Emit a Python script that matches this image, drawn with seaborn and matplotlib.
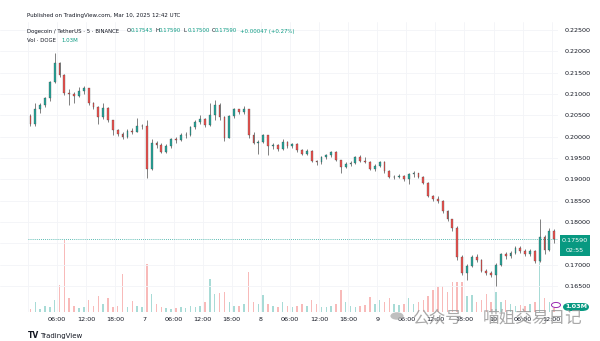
import numpy as np
import pandas as pd
import matplotlib
matplotlib.use("Agg")
import matplotlib.pyplot as plt
from matplotlib.patches import FancyBboxPatch, Circle
import seaborn as sns

# Hourly DOGE/USDT candles from Mar 6 00:00 UTC to Mar 10 12:42 UTC
first_open = 0.2049
closes = [
    0.2030, 0.2065, 0.2075, 0.2090, 0.2128, 0.2172, 0.2145, 0.2102, 0.2100, 0.2096,
    0.2108, 0.2113, 0.2078, 0.2070, 0.2045, 0.2068, 0.2038, 0.2015, 0.2006, 0.2000,
    0.2014, 0.2012, 0.2024, 0.2025,
    0.1925, 0.1985, 0.1980, 0.1965, 0.1978, 0.1995, 0.1992, 0.2003, 0.2005, 0.2022,
    0.2035, 0.2042, 0.2028, 0.2050, 0.2075, 0.2045, 0.1998, 0.2048, 0.2064, 0.2058,
    0.2065, 0.2003, 0.1985, 0.1988,
    0.2003, 0.1978, 0.1980, 0.1970, 0.1988, 0.1978, 0.1982, 0.1968, 0.1960, 0.1966,
    0.1942, 0.1940, 0.1952, 0.1958, 0.1964, 0.1945, 0.1930, 0.1937, 0.1938, 0.1952,
    0.1943, 0.1940, 0.1925, 0.1932,
    0.1940, 0.1920, 0.1905, 0.1905, 0.1908, 0.1900, 0.1912, 0.1915, 0.1905, 0.1892,
    0.1862, 0.1855, 0.1849, 0.1825, 0.1806, 0.1785, 0.1717, 0.1680, 0.1698, 0.1718,
    0.1712, 0.1686, 0.1681, 0.1676,
    0.1700, 0.1725, 0.1720, 0.1728, 0.1740, 0.1733, 0.1724, 0.1732, 0.1708, 0.1765,
    0.1735, 0.1780, 0.1759,
]
highs = [
    0.2052, 0.2080, 0.2080, 0.2092, 0.2130, 0.2197, 0.2175, 0.2148, 0.2112, 0.2104,
    0.2116, 0.2118, 0.2115, 0.2082, 0.2072, 0.2080, 0.2070, 0.2040, 0.2018, 0.2010,
    0.2018, 0.2020, 0.2044, 0.2030,
    0.2040, 0.1995, 0.1990, 0.1984, 0.1982, 0.1998, 0.2000, 0.2008, 0.2010, 0.2026,
    0.2038, 0.2050, 0.2044, 0.2078, 0.2085, 0.2078, 0.2048, 0.2050, 0.2068, 0.2066,
    0.2072, 0.2066, 0.2010, 0.1992,
    0.2006, 0.2004, 0.1986, 0.1982, 0.1995, 0.1990, 0.1986, 0.1984, 0.1970, 0.1972,
    0.1968, 0.1946, 0.1954, 0.1960, 0.1966, 0.1966, 0.1946, 0.1940, 0.1942, 0.1954,
    0.1956, 0.1952, 0.1942, 0.1936,
    0.1942, 0.1942, 0.1922, 0.1910, 0.1912, 0.1910, 0.1914, 0.1920, 0.1916, 0.1908,
    0.1894, 0.1864, 0.1862, 0.1852, 0.1828, 0.1808, 0.1790, 0.1722, 0.1702, 0.1722,
    0.1726, 0.1714, 0.1690, 0.1684,
    0.1704, 0.1728, 0.1730, 0.1732, 0.1744, 0.1744, 0.1736, 0.1736, 0.1734, 0.1808,
    0.1770, 0.1785, 0.1784,
]
lows = [
    0.2026, 0.2026, 0.2055, 0.2070, 0.2084, 0.2125, 0.2140, 0.2098, 0.2075, 0.2080,
    0.2092, 0.2100, 0.2074, 0.2066, 0.2030, 0.2042, 0.2034, 0.2005, 0.2002, 0.1995,
    0.1998, 0.2006, 0.2010, 0.2018,
    0.1904, 0.1922, 0.1974, 0.1962, 0.1962, 0.1974, 0.1986, 0.1990, 0.1998, 0.2002,
    0.2018, 0.2030, 0.2022, 0.2026, 0.2040, 0.2040, 0.1990, 0.1996, 0.2044, 0.2052,
    0.2054, 0.1998, 0.1982, 0.1960,
    0.1984, 0.1956, 0.1972, 0.1966, 0.1968, 0.1974, 0.1974, 0.1964, 0.1956, 0.1956,
    0.1940, 0.1933, 0.1936, 0.1948, 0.1952, 0.1942, 0.1914, 0.1926, 0.1932, 0.1936,
    0.1940, 0.1938, 0.1922, 0.1920,
    0.1928, 0.1916, 0.1902, 0.1900, 0.1902, 0.1896, 0.1890, 0.1906, 0.1902, 0.1888,
    0.1858, 0.1850, 0.1844, 0.1822, 0.1802, 0.1780, 0.1712, 0.1676, 0.1664, 0.1694,
    0.1706, 0.1682, 0.1676, 0.1670,
    0.1650, 0.1698, 0.1714, 0.1716, 0.1724, 0.1728, 0.1720, 0.1720, 0.1704, 0.1706,
    0.1726, 0.1732, 0.1750,
]
# Traded volume per hour (millions of DOGE)
volumes = [
    3, 10, 3, 6, 5, 12, 27, 72, 14, 6, 4, 5, 12, 6, 16, 8, 14, 5, 6, 38,
    5, 11, 6, 5, 48, 18, 8, 5, 4, 3, 4, 5, 4, 6, 5, 6, 10, 33, 18, 19,
    20, 10, 6, 6, 8, 40, 10, 8, 17, 8, 6, 5, 10, 6, 5, 6, 8, 6, 12, 8,
    5, 5, 6, 8, 22, 10, 6, 5, 6, 7, 15, 8, 12, 10, 14, 8, 7, 8, 14, 8,
    10, 12, 16, 22, 25, 26, 20, 30, 30, 30, 16, 17, 10, 12, 18, 10, 20, 10, 12, 8,
    6, 7, 6, 8, 10, 55, 14, 10, 4,
]
price_ticks = [0.165, 0.170, 0.175, 0.180, 0.185, 0.190, 0.195, 0.200,
               0.205, 0.210, 0.215, 0.220, 0.225]
time_ticks = [6, 12, 18, 24, 30, 36, 42, 48, 54, 60, 66, 72, 78, 84, 90, 96, 102, 108]
time_labels = ["06:00", "12:00", "18:00", "7", "06:00", "12:00", "18:00", "8",
               "06:00", "12:00", "18:00", "9", "06:00", "12:00", "18:00", "10",
               "06:00", "12:00"]
last_price = 0.17590

df = pd.DataFrame({"close": closes, "high": highs, "low": lows, "volume": volumes})
df["open"] = [first_open] + closes[:-1]
df["t"] = np.arange(len(df)) + 0.5
df["up"] = df["close"] >= df["open"]

UP = "#26a69a"
DOWN = "#ef5350"
TEXT = "#131722"
VALUE = "#089981"

sns.set_theme(style="white")
plt.rcParams["font.family"] = ["DejaVu Sans"]

fig = plt.figure(figsize=(6.0, 3.41), dpi=100)
fig.patch.set_facecolor("white")
ax = fig.add_axes([0.0, 29 / 341, 558 / 600, 290 / 341])
axv = ax.twinx()
ax.set_zorder(axv.get_zorder() + 1)
ax.patch.set_visible(False)

x_min, x_max = -28 / 4.85, 530 / 4.85
ax.set_xlim(x_min, x_max)
ax.set_ylim(0.158906, 0.226875)
axv.set_ylim(0, 290)

# grid
for p in price_ticks:
    ax.axhline(p, color="#f3f4f7", lw=0.6, zorder=0)
for t in [0] + time_ticks:
    ax.axvline(t, color="#f3f4f7", lw=0.6, zorder=0)

# volume spikes
vol_colors = [UP if u else DOWN for u in df["up"]]
axv.bar(df["t"], df["volume"], width=0.3, color=vol_colors, alpha=0.4, linewidth=0)
axv.set_axis_off()

# candles
candle_colors = [UP if u else DOWN for u in df["up"]]
ax.vlines(df["t"], df["low"], df["high"], color="#3a3a3a", lw=0.45, zorder=3)
body_lo = np.minimum(df["open"], df["close"])
body_h = np.maximum(np.abs(df["close"] - df["open"]), 0.00008)
ax.bar(df["t"], body_h, bottom=body_lo, width=0.38, color=candle_colors,
       edgecolor="#3a3a3a", linewidth=0.2, zorder=4)

# last price line
ax.hlines(last_price, 0, x_max, colors=UP, linestyles=(0, (1, 1.5)), lw=0.6, zorder=2)

# axes
ax.yaxis.tick_right()
ax.set_yticks(price_ticks)
ax.set_yticklabels([f"{p:.5f}" for p in price_ticks])
ax.set_xticks(time_ticks)
ax.set_xticklabels(time_labels)
ax.tick_params(axis="both", length=0, labelsize=4.6, colors=TEXT)
ax.tick_params(axis="y", pad=5)
ax.tick_params(axis="x", pad=3.5)
for s in ax.spines.values():
    s.set_visible(False)
ax.grid(False)

# header
HF = 3.9
fig.text(27 / 600, 1 - 15 / 341, "Published on TradingView.com, Mar 10, 2025 12:42 UTC",
         fontsize=4.0, color=TEXT, va="center")
fig.text(27 / 600, 1 - 31 / 341, "Dogecoin / TetherUS · 5 · BINANCE",
         fontsize=HF, color=TEXT, va="center")
ohlc = [("O", "0.17543", 127), ("H", "0.17590", 155.5), ("L", "0.17500", 184),
        ("C", "0.17590", 211.5)]
for lab, val, xp in ohlc:
    fig.text(xp / 600, 1 - 31 / 341, lab, fontsize=HF, color=TEXT, va="center")
    fig.text((xp + 3.5) / 600, 1 - 31 / 341, val, fontsize=HF, color=VALUE, va="center")
fig.text(240 / 600, 1 - 31 / 341, "+0.00047 (+0.27%)", fontsize=HF, color=VALUE,
         va="center")
fig.text(27 / 600, 1 - 41 / 341, "Vol · DOGE", fontsize=HF, color=TEXT, va="center")
fig.text(61 / 600, 1 - 41 / 341, "1.03M", fontsize=HF, color=VALUE, va="center")

# price badge
fig.patches.append(FancyBboxPatch((560 / 600, 1 - 256 / 341), 30 / 600, 21 / 341,
                                  boxstyle="square,pad=0", transform=fig.transFigure,
                                  facecolor=VALUE, edgecolor="none"))
fig.text(575 / 600, 1 - 240 / 341, "0.17590", fontsize=4.6, color="white",
         ha="center", va="center")
fig.text(575 / 600, 1 - 250 / 341, "02:55", fontsize=4.6, color="white",
         ha="center", va="center")

# volume badge
fig.patches.append(FancyBboxPatch((563 / 600, 1 - 311 / 341), 26 / 600, 8 / 341,
                                  boxstyle="round,pad=0,rounding_size=0.012",
                                  transform=fig.transFigure,
                                  facecolor=VALUE, edgecolor="none"))
fig.text(576 / 600, 1 - 307 / 341, "1.03M", fontsize=4.6, color="white",
         ha="center", va="center", fontweight="bold")
fig.patches.append(Circle((556 / 600, 1 - 305 / 341), 0.0075, transform=fig.transFigure,
                          facecolor="white", edgecolor="#9c27b0", lw=0.7))

# footer logo
fig.text(28 / 600, 1 - 336 / 341, "TV", fontsize=5.5, color=TEXT, va="center",
         fontweight="bold")
fig.text(40 / 600, 1 - 336 / 341, "TradingView", fontsize=5.0, color=TEXT, va="center")

# account mark
fig.patches.append(Circle((397 / 600, 1 - 316 / 341), 0.011, transform=fig.transFigure,
                          facecolor="#b0b0b0", edgecolor="none", alpha=0.8))
fig.text(412 / 600, 1 - 318 / 341, "公众号", fontsize=12, color="#9a9a9a", alpha=0.85,
         va="center", family=["Noto Sans CJK SC", "DejaVu Sans"])
fig.text(483 / 600, 1 - 318 / 341, "喵姐交易日记", fontsize=12, color="#9a9a9a",
         alpha=0.85, va="center", family=["Noto Sans CJK SC", "DejaVu Sans"])

fig.savefig("out.png", dpi=100, facecolor="white")
